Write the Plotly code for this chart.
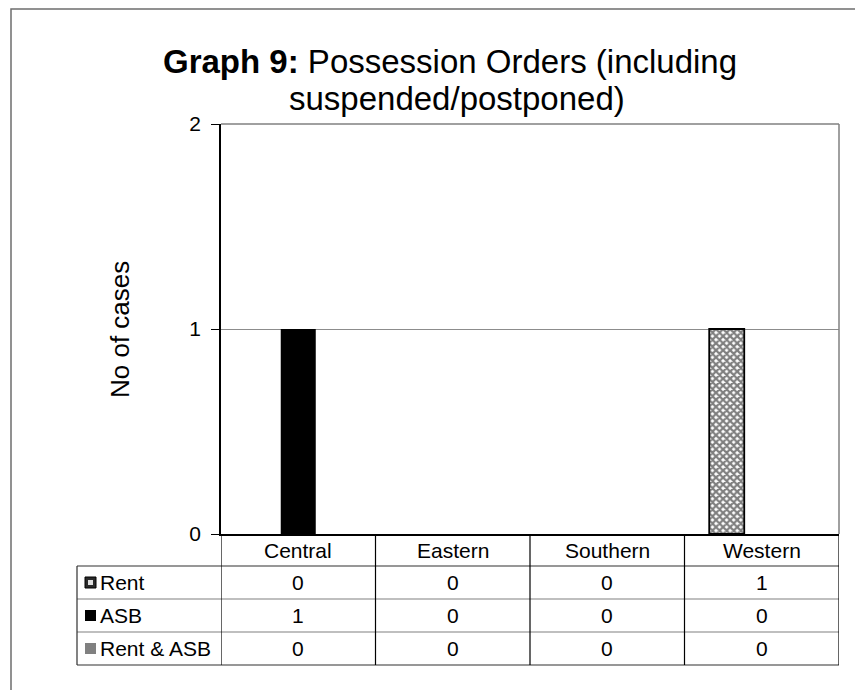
import plotly.graph_objects as go

# ---- data ----
categories = ["Central", "Eastern", "Southern", "Western"]
series_names = ["Rent", "ASB", "Rent & ASB"]
rent = [0, 0, 0, 1]
asb = [1, 0, 0, 0]
rent_asb = [0, 0, 0, 0]
y_ticks = [0, 1, 2]
title_bold = "Graph 9:"
title_line1 = "Possession Orders (including"
title_line2 = "suspended/postponed)"
y_title = "No of cases"

W, H = 863, 690
OX, OY = 8, 8  # page offset of the figure in the browser
# screen pixel positions of the plot area
SL, SR, ST, SB = 221, 839, 124, 534
L, T = SL - OX, ST - OY
R = W - (SR - OX)
B = H - (SB - OY)
PW, PH = SR - SL, SB - ST
FONT = "Liberation Sans, Arial, sans-serif"


def py(p):  # screen pixel y -> paper y
    return (SB - p) / PH


def px(p):  # screen pixel x -> paper x
    return (p - SL) / PW


fig = go.Figure()
fig.add_bar(x=categories, y=rent, name=series_names[0],
            marker=dict(color="white",
                        line=dict(color="black", width=[1.8 if v else 0 for v in rent]),
                        pattern=dict(shape="x", fgcolor="black", bgcolor="white",
                                     size=5, solidity=0.7)))
fig.add_bar(x=categories, y=asb, name=series_names[1],
            marker=dict(color="black", line=dict(width=0)))
fig.add_bar(x=categories, y=rent_asb, name=series_names[2],
            marker=dict(color="#808080", line=dict(width=0)))

shapes = []
# plot-area border (top & right, gray)
shapes.append(dict(type="line", xref="paper", yref="paper", x0=0, x1=1, y0=1, y1=1,
                   line=dict(color="#808080", width=1.5)))
shapes.append(dict(type="line", xref="paper", yref="paper", x0=1, x1=1, y0=0, y1=1,
                   line=dict(color="#808080", width=1.5)))
# outer chart border
shapes.append(dict(type="rect", xref="paper", yref="paper",
                   x0=px(11), x1=px(900), y0=py(9), y1=py(720),
                   line=dict(color="#6e6e6e", width=1.5), fillcolor="rgba(0,0,0,0)"))

# data table
row_y = [534, 566, 599, 632, 665]
n = len(categories)
for i, yy in enumerate(row_y[1:]):
    dark = (i == 0 or i == len(row_y) - 2)
    shapes.append(dict(type="line", xref="paper", yref="paper",
                       x0=px(77), x1=1, y0=py(yy), y1=py(yy),
                       line=dict(color="#303030" if dark else "#808080", width=1.2)))
for k in range(n + 1):
    shapes.append(dict(type="line", xref="x", yref="paper",
                       x0=k - 0.5, x1=k - 0.5, y0=py(534), y1=py(665),
                       line=dict(color="black", width=1.2)))
shapes.append(dict(type="line", xref="paper", yref="paper", x0=px(77), x1=px(77),
                   y0=py(566), y1=py(665), line=dict(color="#303030", width=1.2)))

annotations = []
tf = dict(family=FONT, size=21, color="black")
for c in categories:
    annotations.append(dict(x=c, xref="x", y=py(550), yref="paper", text=c,
                            showarrow=False, font=tf, xanchor="center", yanchor="middle"))
values = [rent, asb, rent_asb]
for r, (name, vals) in enumerate(zip(series_names, values)):
    yc = (row_y[r + 1] + row_y[r + 2]) / 2
    for c, v in zip(categories, vals):
        annotations.append(dict(x=c, xref="x", y=py(yc), yref="paper", text=str(v),
                                showarrow=False, font=tf, xanchor="center", yanchor="middle"))
    annotations.append(dict(x=px(98), xref="paper", y=py(yc), yref="paper", text=name,
                            showarrow=False, font=tf, xanchor="left", yanchor="middle"))
    # legend keys
    k0, k1 = yc - 5.5, yc + 5.5
    if r == 0:
        shapes.append(dict(type="rect", xref="paper", yref="paper", x0=px(85), x1=px(96),
                           y0=py(k0), y1=py(k1), fillcolor="#2a2a2a",
                           line=dict(color="black", width=1)))
        shapes.append(dict(type="rect", xref="paper", yref="paper", x0=px(88), x1=px(93),
                           y0=py(yc - 2.5), y1=py(yc + 2.5), fillcolor="#e0e0e0",
                           line=dict(width=0)))
    else:
        shapes.append(dict(type="rect", xref="paper", yref="paper", x0=px(85), x1=px(96),
                           y0=py(k0), y1=py(k1),
                           fillcolor="black" if r == 1 else "#808080",
                           line=dict(width=0)))

# title (two lines)
title_font = dict(family=FONT, size=33, color="black")
annotations.append(dict(x=px(450), xref="paper", y=py(61), yref="paper",
                        text=f"<b>{title_bold}</b> {title_line1}", showarrow=False,
                        font=title_font, xanchor="center", yanchor="middle"))
annotations.append(dict(x=px(457), xref="paper", y=py(99), yref="paper",
                        text=title_line2, showarrow=False,
                        font=title_font, xanchor="center", yanchor="middle"))
# y title
annotations.append(dict(x=px(120), xref="paper", y=py(330), yref="paper", text=y_title,
                        textangle=-90, showarrow=False,
                        font=dict(family=FONT, size=26, color="black"),
                        xanchor="center", yanchor="middle"))

fig.update_layout(
    width=W, height=H,
    margin=dict(l=L, r=R, t=T, b=B),
    paper_bgcolor="white", plot_bgcolor="white",
    barmode="group", bargap=0.32, bargroupgap=0,
    showlegend=False,
    shapes=shapes, annotations=annotations,
    font=dict(family=FONT, color="black"),
    xaxis=dict(range=[-0.5, n - 0.5], showticklabels=False, showgrid=False,
               showline=True, linecolor="black", linewidth=1.5, ticks="", zeroline=False),
    yaxis=dict(range=[0, 2], tickvals=y_ticks, ticktext=[str(t) for t in y_ticks],
               showgrid=True, gridcolor="#8c8c8c", gridwidth=1,
               showline=True, linecolor="black", linewidth=1.5,
               ticks="outside", ticklen=8, tickcolor="black", tickwidth=1.2,
               ticklabelstandoff=6,
               tickfont=dict(family=FONT, size=21, color="black"), zeroline=False),
)

fig.write_html("out.html")
